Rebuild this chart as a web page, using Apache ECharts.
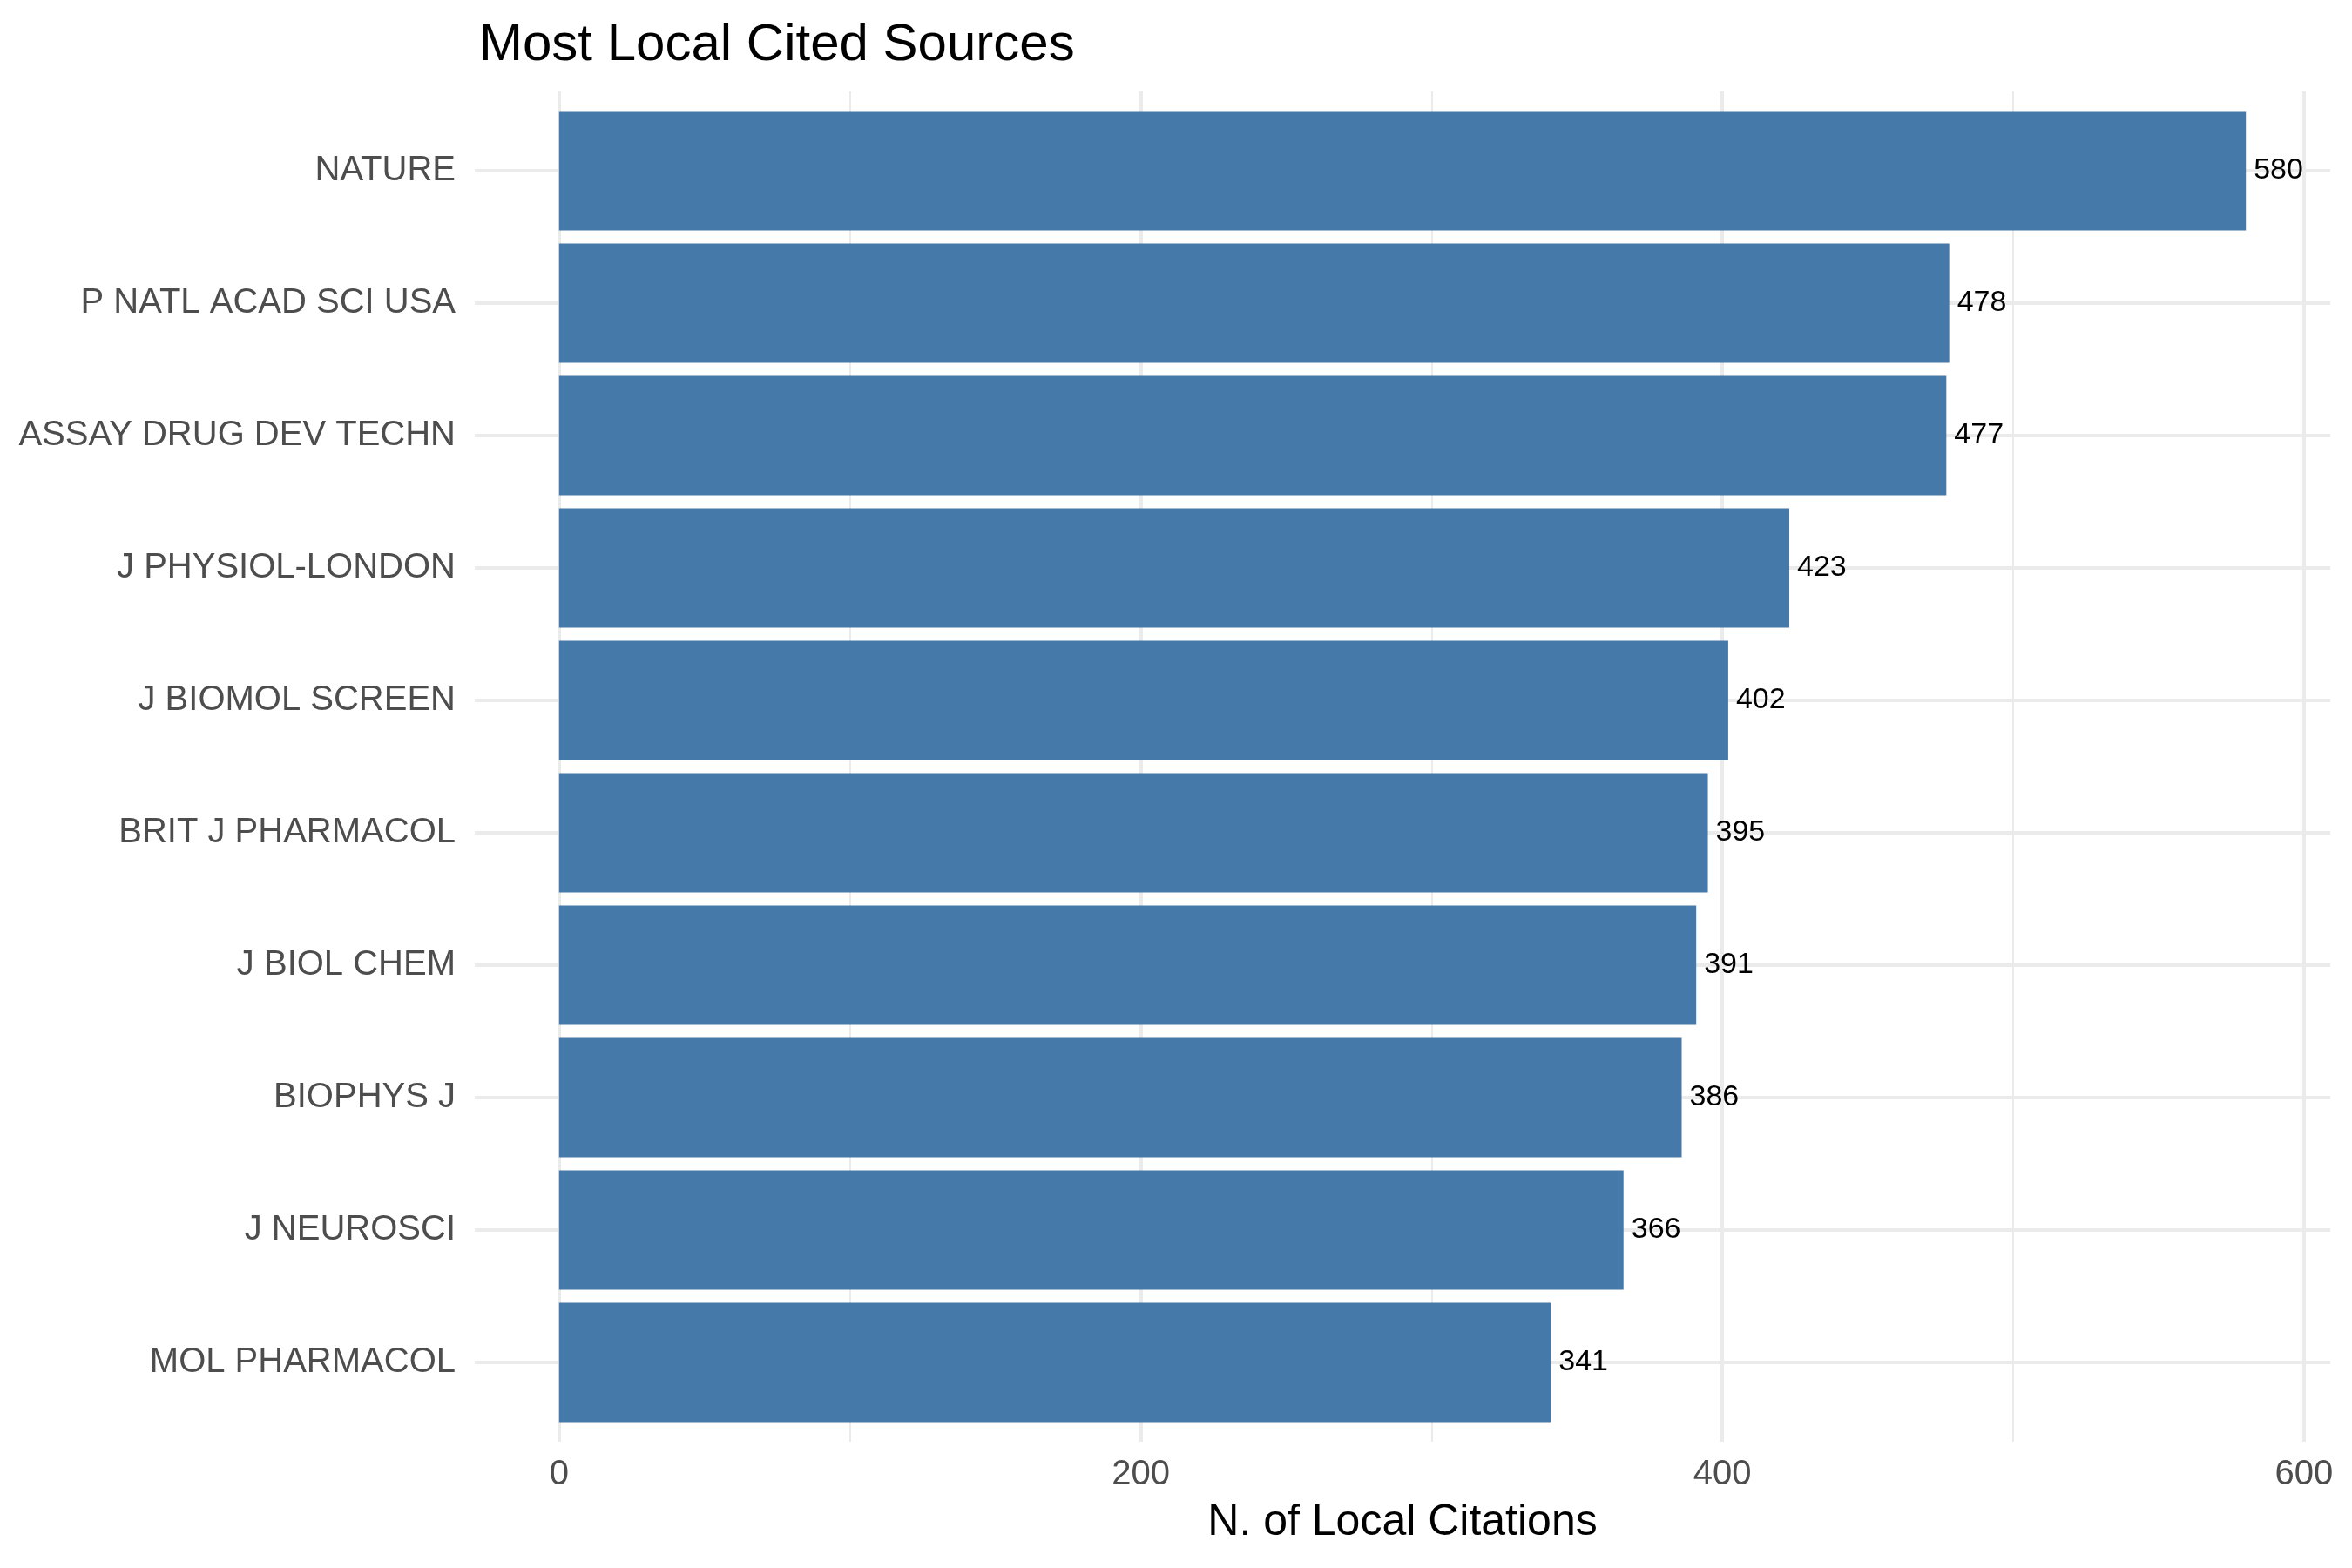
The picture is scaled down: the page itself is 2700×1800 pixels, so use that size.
<!DOCTYPE html>
<html>
<head>
<meta charset="utf-8">
<script src="https://cdn.jsdelivr.net/npm/echarts@6/dist/echarts.min.js"></script>
<style>
  html, body { margin: 0; padding: 0; background: #fff; }
  #chart { width: 2700px; height: 1800px; }
</style>
</head>
<body>
<div id="chart"></div>
<script>
// sources, top to bottom
var sources = ['NATURE', 'P NATL ACAD SCI USA', 'ASSAY DRUG DEV TECHN', 'J PHYSIOL-LONDON',
  'J BIOMOL SCREEN', 'BRIT J PHARMACOL', 'J BIOL CHEM', 'BIOPHYS J', 'J NEUROSCI', 'MOL PHARMACOL'];
// local citations
var citations = [580, 478, 477, 423, 402, 395, 391, 386, 366, 341];
// x ticks
var majorTicks = [0, 200, 400, 600];
var minorTicks = [100, 300, 500];
// row positions for the horizontal grid lines
var rowPos = [1, 2, 3, 4, 5, 6, 7, 8, 9, 10];

var FONT = 'Liberation Sans, Arial, sans-serif';
var GRID_COLOR = '#EBEBEB';

var chart = echarts.init(document.getElementById('chart'));

// grid lines (drawn in the panel grid, behind the bars)
var gridLines = [];
majorTicks.forEach(function (v) {
  gridLines.push({ xAxis: v, lineStyle: { width: 4, color: GRID_COLOR, type: 'solid' } });
});
minorTicks.forEach(function (v) {
  gridLines.push({ xAxis: v, lineStyle: { width: 2, color: GRID_COLOR, type: 'solid' } });
});
rowPos.forEach(function (v) {
  gridLines.push({ yAxis: v, lineStyle: { width: 4, color: GRID_COLOR, type: 'solid' } });
});

var option = {
  backgroundColor: '#fff',
  animation: false,
  title: {
    text: 'Most Local Cited Sources',
    left: 545,
    top: 17,
    textStyle: { fontFamily: FONT, fontSize: 60, fontWeight: 'normal', color: '#000' }
  },
  grid: [
    // bars
    { left: 545, right: 25, top: 120, bottom: 160 },
    // whole panel
    { left: 545, right: 25, top: 105, bottom: 145 }
  ],
  xAxis: [
    { gridIndex: 0, type: 'value', min: -29, max: 609, show: false },
    {
      gridIndex: 1, type: 'value', min: -29, max: 609,
      axisLine: { show: false }, axisTick: { show: false }, splitLine: { show: false },
      axisLabel: {
        margin: 18, fontFamily: FONT, fontSize: 40, color: '#4D4D4D',
        formatter: function (v) {
          return majorTicks.indexOf(v) >= 0 ? String(v) : '';
        }
      },
      name: 'N. of Local Citations',
      nameLocation: 'middle',
      nameGap: 68,
      nameTextStyle: { fontFamily: FONT, fontSize: 50, color: '#000' }
    }
  ],
  yAxis: [
    {
      gridIndex: 0, type: 'category', inverse: true, data: sources,
      axisLine: { show: false }, axisTick: { show: false }, splitLine: { show: false },
      axisLabel: { margin: 22, fontFamily: FONT, fontSize: 40, color: '#4D4D4D' }
    },
    { gridIndex: 1, type: 'value', min: 0.4, max: 10.6, inverse: true, show: false }
  ],
  series: [
    {
      type: 'line',
      xAxisIndex: 1, yAxisIndex: 1,
      data: [],
      silent: true,
      markLine: {
        z: 1,
        silent: true,
        symbol: ['none', 'none'],
        label: { show: false },
        animation: false,
        data: gridLines
      }
    },
    {
      type: 'bar',
      xAxisIndex: 0, yAxisIndex: 0,
      z: 3,
      data: citations,
      barCategoryGap: '10%',
      itemStyle: { color: '#4579AA' },
      label: {
        show: true, position: 'right', distance: 9,
        fontFamily: FONT, fontSize: 34, color: '#000'
      }
    }
  ]
};

chart.setOption(option);
</script>
</body>
</html>
